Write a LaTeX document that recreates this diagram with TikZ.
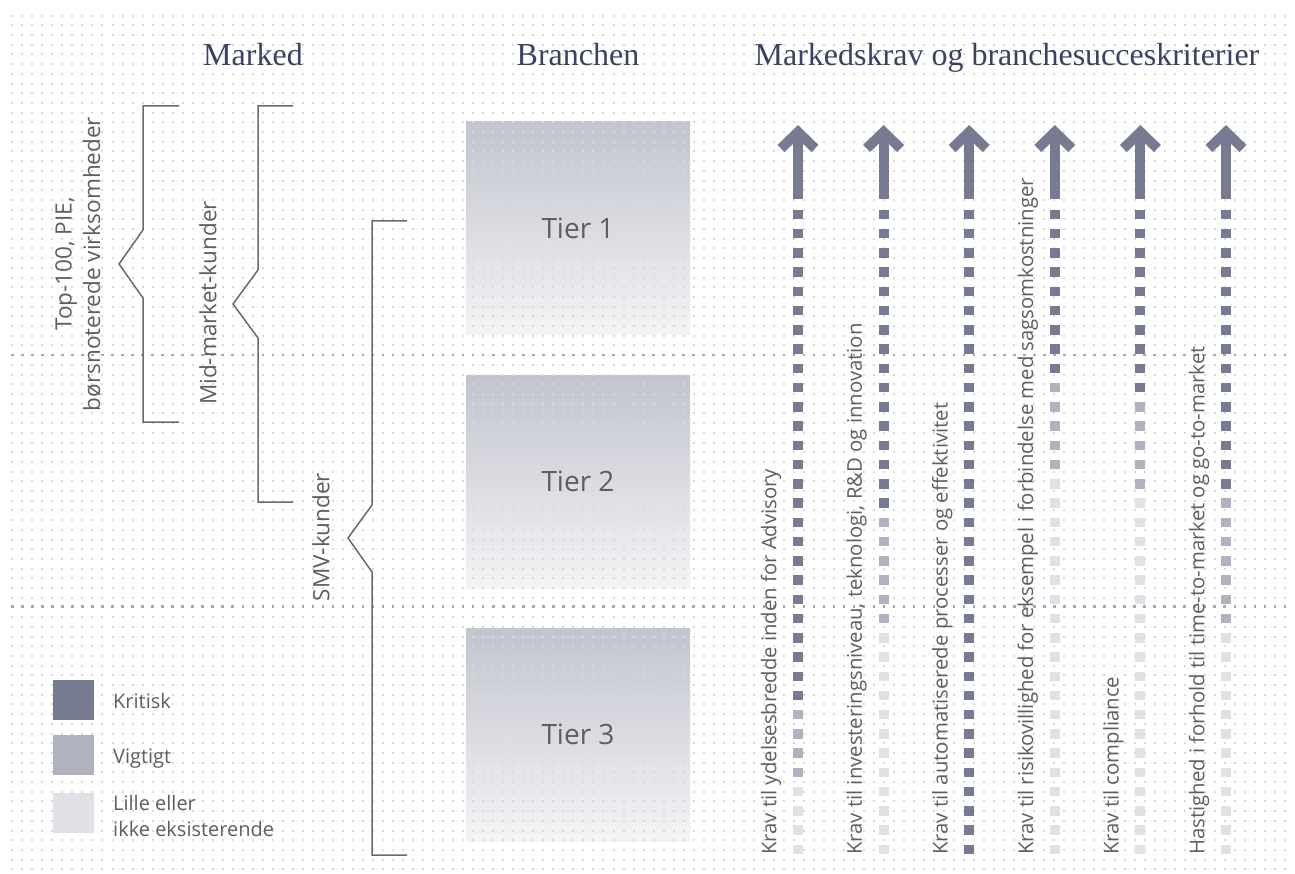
\documentclass[tikz,border=0pt]{standalone}
\usepackage{fontspec}
\setmainfont{Open Sans}
\newfontfamily\headfont{Liberation Serif}
\definecolor{crit}{HTML}{777B91}
\definecolor{vig}{HTML}{B0B2C0}
\definecolor{lille}{HTML}{E0E1E6}
\definecolor{headc}{HTML}{3B4163}
\definecolor{txtc}{HTML}{5E5E5E}
\definecolor{gridc}{HTML}{D9D9D9}
\definecolor{sepc}{HTML}{A3A6B8}
\definecolor{bracec}{HTML}{6A6A6A}
\definecolor{tiertop}{HTML}{C2C4CE}
\definecolor{tierbot}{HTML}{F4F4F6}
\tikzset{
  headtxt/.style={font=\headfont\fontsize{32}{36}\selectfont, text=headc, inner sep=0pt, anchor=base},
  sidetxt/.style={font=\fontsize{22.5}{28.5}\selectfont, text=txtc, inner sep=0pt, rotate=90, align=center},
  coltxt/.style={font=\fontsize{20.3}{24}\selectfont, text=txtc, inner sep=0pt, rotate=90, anchor=west},
  legtxt/.style={font=\fontsize{20}{26}\selectfont, text=txtc, inner sep=0pt, anchor=base west},
  tierbox/.style={draw=none, top color=tiertop, bottom color=tierbot, minimum width=224pt, minimum height=213pt, inner sep=0pt},
  tiertxt/.style={font=\fontsize{28}{32}\selectfont, text=txtc, inner sep=0pt},
  legsq/.style={draw=none, minimum width=41pt, minimum height=40pt, inner sep=0pt},
  bracestyle/.style={draw=bracec, line width=1.5pt, line join=miter},
  arrowline/.style={draw=crit, line width=10pt},
}
\begin{document}
\begin{tikzpicture}[x=1pt,y=-1pt]
\useasboundingbox (0,0) rectangle (1295,874);
\fill[white] (0,0) rectangle (1295,874);
% tier boxes
\node[tierbox] (t1) at (578,228.5) {};
\node[tierbox] (t2) at (578,481.5) {};
\node[tierbox] (t3) at (578,734.5) {};
% dot grid
\foreach \j in {0,...,88}{
  \draw[gridc, line width=2pt, dash pattern=on 2pt off 8.02pt] (11.3,{15.7+9.7*\j}) -- (1290,{15.7+9.7*\j});
}
% separators
\draw[sepc, line width=2.5pt, dash pattern=on 2.5pt off 7.52pt] (11.05,355.2) -- (1290,355.2);
\draw[sepc, line width=2.5pt, dash pattern=on 2.5pt off 7.52pt] (11.05,606.4) -- (1290,606.4);
% tier texts
\node[tiertxt] at (t1) {Tier 1};
\node[tiertxt] at (t2) {Tier 2};
\node[tiertxt] at (t3) {Tier 3};
% headers
\node[headtxt] (h1) at (253,65.5) {Marked};
\node[headtxt] (h2) at (578,65.5) {Branchen};
\node[headtxt] (h3) at (1007,65.5) {Markedskrav og branchesucceskriterier};
% braces
\draw[bracestyle] (179,106) -- (143,106) -- (143,230) -- (119,264) -- (143,298) -- (143,422) -- (179,422);
\draw[bracestyle] (293,106) -- (258,106) -- (258,270) -- (233,304) -- (258,338) -- (258,502) -- (293,502);
\draw[bracestyle] (407,221) -- (372,221) -- (372,505) -- (348,538) -- (372,572) -- (372,855) -- (407,855);
\node[sidetxt] (b1) at (78,264) {Top-100, PIE,\\børsnoterede virksomheder};
\node[sidetxt] (b2) at (208,303) {Mid-market-kunder};
\node[sidetxt] (b3) at (321,537) {SMV-kunder};
% legend
\node[legsq, fill=crit] (l1) at (73.5,699.5) {};
\node[legsq, fill=vig] (l2) at (73.5,755) {};
\node[legsq, fill=lille] (l3) at (73.5,813) {};
\node[legtxt] (lt1) at (113,708.3) {Kritisk};
\node[legtxt] (lt2) at (113,763) {Vigtigt};
\node[legtxt] (lt3) at (113,810) {Lille eller};
\node[legtxt] (lt4) at (113,836) {ikke eksisterende};
% columns
\foreach \x/\d/\m/\lab [count=\c] in {
  798/25/29/{Krav til ydelsesbredde inden for Advisory},
  883.6/15/21/{Krav til investeringsniveau, teknologi, R\&D og innovation},
  969.2/33/33/{Krav til automatiserede processer og effektivitet},
  1054.8/8/13/{Krav til risikovillighed for eksempel i forbindelse med sagsomkostninger},
  1140.4/9/14/{Krav til compliance},
  1226/14/21/{Hastighed i forhold til time-to-market og go-to-market}}{
  \foreach \k in {0,...,33}{
    \ifnum\k>\m\relax \def\sq{lille}\else\ifnum\k>\d\relax \def\sq{vig}\else\def\sq{crit}\fi\fi
    \fill[\sq] ({\x-5},{214.5+19.24*\k-4.75}) rectangle ({\x+5},{214.5+19.24*\k+4.75});
  }
  \coordinate (s\c) at (\x,199);
  \coordinate (e\c) at (\x,132);
  \coordinate (wl\c) at ({\x-17},148.5);
  \coordinate (wr\c) at ({\x+17},148.5);
  \draw[arrowline] (s\c) -- (e\c);
  \draw[arrowline, line join=miter] (wl\c) -- (e\c) -- (wr\c);
  \node[coltxt] (c\c) at ({\x-27},855) {\lab};
}
\end{tikzpicture}
\end{document}
